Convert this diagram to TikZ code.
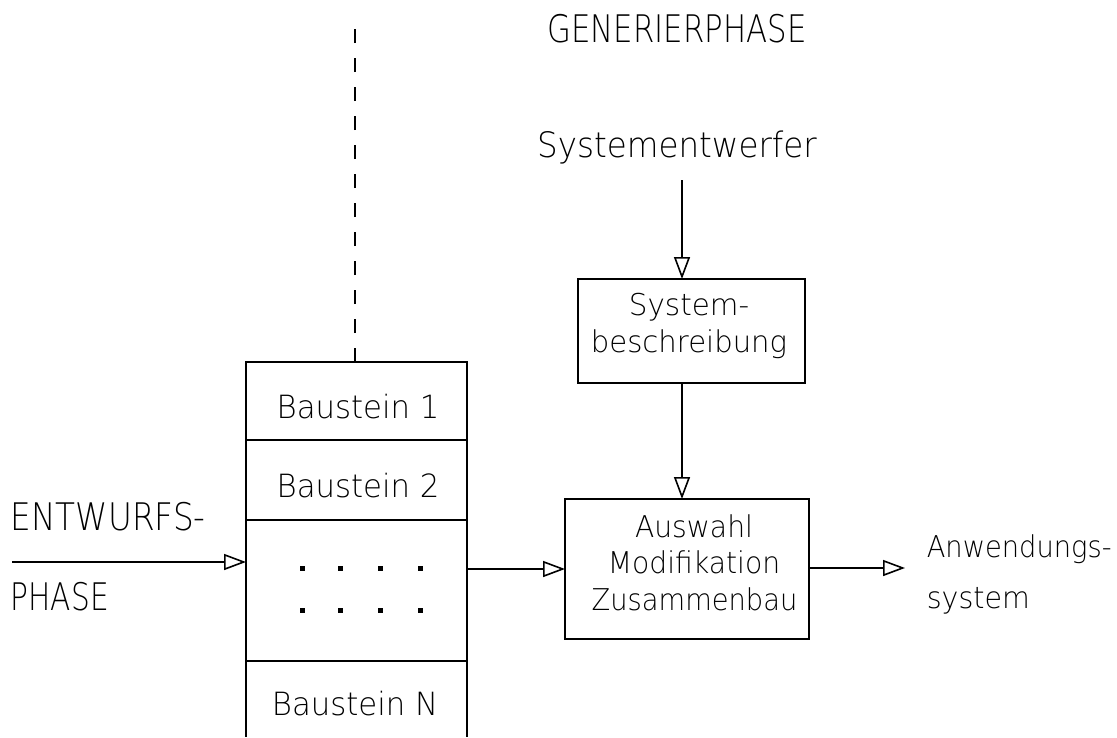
\documentclass[tikz,border=0pt]{standalone}
\usepackage{fontspec}
\setmainfont{DejaVu Sans ExtraLight}
\usetikzlibrary{arrows.meta}
% text at a given size, squeezed horizontally by a given factor
\newcommand{\txtfit}[3]{\fontsize{#1}{#1}\selectfont\scalebox{#2}[1]{#3}}
\begin{document}
\begin{tikzpicture}[x=1pt,y=-1pt,
  line width=1.6pt,
  lbl/.style={inner sep=0pt, anchor=base},
  lblw/.style={inner sep=0pt, anchor=base west},
  boxed/.style={draw, rectangle, inner sep=0pt, outer sep=0pt},
  flow/.style={-{Triangle[open, length=22pt, width=16pt, fill=white, line width=1.6pt]}},
  dot/.style={fill, minimum size=5pt, inner sep=0pt, draw=none}]
\useasboundingbox (0,0) rectangle (1117,737);

% building block stack (open at the bottom)
\node[boxed, minimum width=221pt, minimum height=78pt] (b1) at (356.5,401) {};
\node[boxed, minimum width=221pt, minimum height=80pt] (b2) at (356.5,480) {};
\node[boxed, minimum width=221pt, minimum height=141pt] (bd) at (356.5,590.5) {};
\coordinate (bNl) at (246,737);
\coordinate (bNr) at (467,737);
\draw (bd.south west) -- (bNl);
\draw (bd.south east) -- (bNr);
\node[lbl] (t1) at (358,418) {\txtfit{32}{0.96}{Baustein 1}};
\node[lbl] (t2) at (358,497) {\txtfit{32}{0.96}{Baustein 2}};
\node[lbl] (tN) at (355,715) {\txtfit{32}{0.96}{Baustein N}};

% continuation dots
\foreach \cx in {302,340,380,420}
  \foreach \cy in {568,610}
    \node[dot] at (\cx,\cy) {};

% phase boundary
\coordinate (dtop) at (355,23);
\draw[dash pattern=on 14pt off 15pt] (dtop |- b1.north) -- (dtop);

% generation phase
\node[lbl] (gen) at (677,42) {\txtfit{38}{0.81}{GENERIERPHASE}};
\node[lbl] (designer) at (677,157) {\txtfit{35}{0.93}{Systementwerfer}};
\node[boxed, minimum width=227pt, minimum height=104pt] (sysb) at (691.5,331) {};
\node[lbl] (sysb1) at (689,315) {\txtfit{30}{0.98}{System-}};
\node[lbl] (sysb2) at (689,352) {\txtfit{30}{0.97}{beschreibung}};
\node[boxed, minimum width=244pt, minimum height=140pt] (asm) at (687,569) {};
\node[lbl] (asm1) at (694,537) {\txtfit{30}{0.94}{Auswahl}};
\node[lbl] (asm2) at (694,573) {\txtfit{30}{0.94}{Modifikation}};
\node[lbl] (asm3) at (694.5,610) {\txtfit{30}{0.91}{Zusammenbau}};

% design phase input
\node[lblw] (ent) at (10,530) {\txtfit{38}{0.86}{ENTWURFS-}};
\node[lblw] (pha) at (10,610) {\txtfit{38}{0.78}{PHASE}};
\coordinate (in) at (12,562);

% result
\node[lblw] (app1) at (926,557) {\txtfit{30}{0.91}{Anwendungs-}};
\node[lblw] (app2) at (926,608) {\txtfit{30}{0.95}{system}};
\coordinate (out) at (905,568);

% connectors
\coordinate (sten) at (682,180);
\draw[flow] (sten) -- (sten |- sysb.north);
\draw[flow] (sten |- sysb.south) -- (sten |- asm.north);
\draw[flow] (in) -- (in -| b1.west);
\draw[flow] (bd.east |- asm.west) -- (asm.west);
\draw[flow] (asm.east |- out) -- (out);
\end{tikzpicture}
\end{document}
